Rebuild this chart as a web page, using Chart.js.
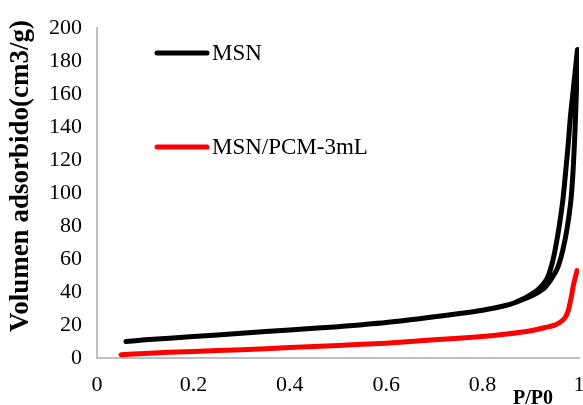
<!DOCTYPE html>
<html>
<head>
<meta charset="utf-8">
<script src="https://cdn.jsdelivr.net/npm/chart.js@4.4.1/dist/chart.umd.min.js"></script>
<style>
  html, body { margin: 0; padding: 0; background: #fff; }
  #wrap { width: 583px; height: 405px; }
</style>
</head>
<body>
<div id="wrap"><canvas id="isoterma" width="583" height="405"></canvas></div>
<script>
// MSN: adsorcion (subida) y desorcion (bajada), lazo de histeresis
const msnP = [0.06, 0.1, 0.2, 0.3, 0.4, 0.5, 0.6, 0.7, 0.8, 0.85, 0.88, 0.91, 0.93, 0.945, 0.956, 0.966, 0.975, 0.983, 0.988, 0.992, 0.995, 0.997,
              0.995, 0.99, 0.986, 0.982, 0.978, 0.973, 0.967, 0.96, 0.952, 0.944, 0.935, 0.925, 0.913, 0.9, 0.885, 0.87];
const msnV = [10, 11, 13, 15, 17, 19, 21.5, 25, 29, 32, 35, 39, 43, 49, 55, 65, 78, 95, 115, 140, 165, 187,
              182, 168, 157, 146, 131, 115, 97, 82, 68, 57, 49, 44.5, 41, 38.5, 36, 34];

const pcmP = [0.05, 0.1, 0.2, 0.3, 0.4, 0.5, 0.6, 0.7, 0.8, 0.85, 0.9, 0.93, 0.95, 0.96, 0.97, 0.978, 0.984, 0.989, 0.996];
const pcmV = [2, 2.8, 4, 5, 6.3, 7.6, 9, 11, 13, 14.5, 16.5, 18.5, 20, 21.5, 24, 29, 37, 45, 53];

const seriesNames = ['MSN', 'MSN/PCM-3mL'];
const xTicks = [0, 0.2, 0.4, 0.6, 0.8, 1];
const yTicks = [0, 20, 40, 60, 80, 100, 120, 140, 160, 180, 200];

const serif = '"Liberation Serif", "Times New Roman", serif';

function toPoints(xs, ys) {
    return xs.map((x, i) => ({ x: x, y: ys[i] }));
}

// leyenda y titulos de ejes dibujados a mano (como en Excel)
const decoPlugin = {
    id: 'deco',
    afterDraw(chart) {
        const ctx = chart.ctx;
        ctx.save();
        // leyenda
        const legendY = [53, 147];
        chart.data.datasets.forEach((ds, i) => {
            ctx.strokeStyle = ds.borderColor;
            ctx.lineWidth = 5;
            ctx.lineCap = 'round';
            ctx.beginPath();
            ctx.moveTo(157, legendY[i]);
            ctx.lineTo(207, legendY[i]);
            ctx.stroke();
            ctx.fillStyle = '#000';
            ctx.font = '23px ' + serif;
            ctx.textBaseline = 'middle';
            ctx.textAlign = 'left';
            ctx.fillText(ds.label, 212, legendY[i] + 1);
        });
        // titulo eje Y
        ctx.save();
        ctx.translate(21, 176);
        ctx.rotate(-Math.PI / 2);
        ctx.font = 'bold 27px ' + serif;
        ctx.textAlign = 'center';
        ctx.textBaseline = 'middle';
        ctx.fillText('Volumen adsorbido(cm3/g)', 0, 0);
        ctx.restore();
        // titulo eje X
        ctx.font = 'bold 20px ' + serif;
        ctx.textAlign = 'center';
        ctx.textBaseline = 'alphabetic';
        ctx.fillText('P/P0', 533, 404);
        ctx.restore();
    }
};

const dataIsoterma = {
    datasets: [{
        label: seriesNames[0],
        data: toPoints(msnP, msnV),
        borderColor: '#000000',
        borderWidth: 5,
        tension: 0.2,
        showLine: true,
        pointRadius: 0,
        borderCapStyle: 'round',
        borderJoinStyle: 'round'
    }, {
        label: seriesNames[1],
        data: toPoints(pcmP, pcmV),
        borderColor: '#ff0000',
        borderWidth: 5,
        tension: 0.2,
        showLine: true,
        pointRadius: 0,
        borderCapStyle: 'round',
        borderJoinStyle: 'round'
    }]
};

const configIsoterma = {
    type: 'scatter',
    data: dataIsoterma,
    options: {
        responsive: false,
        animation: false,
        layout: {
            padding: { top: 27, right: 4, bottom: 0, left: 0 }
        },
        plugins: {
            legend: { display: false },
            tooltip: { enabled: false }
        },
        scales: {
            x: {
                type: 'linear',
                min: 0,
                max: 1,
                afterBuildTicks: (axis) => { axis.ticks = xTicks.map(v => ({ value: v })); },
                afterFit: (axis) => {
                    axis.height = 47;
                    axis.paddingLeft = 0;
                    axis.paddingRight = 0;
                },
                grid: { display: false, drawTicks: false },
                border: { display: true, color: '#bfbfbf', width: 2 },
                ticks: {
                    color: '#000',
                    padding: 14,
                    maxRotation: 0,
                    font: { family: serif, size: 22 },
                    callback: (v) => String(v)
                }
            },
            y: {
                type: 'linear',
                min: 0,
                max: 200,
                afterBuildTicks: (axis) => { axis.ticks = yTicks.map(v => ({ value: v })); },
                afterFit: (axis) => { axis.width = 97; },
                grid: { display: false, drawTicks: false },
                border: { display: true, color: '#bfbfbf', width: 2 },
                ticks: {
                    color: '#000',
                    padding: 15,
                    font: { family: serif, size: 22 }
                }
            }
        }
    },
    plugins: [decoPlugin]
};

const chartIsoterma = new Chart(document.getElementById('isoterma'), configIsoterma);
</script>
</body>
</html>
